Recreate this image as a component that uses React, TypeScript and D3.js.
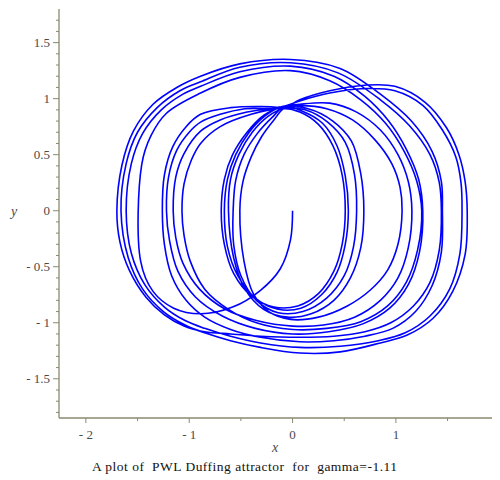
import React from "react";
import * as d3 from "d3";

// ---- axis data ----
const X_MAJOR = [-2, -1, 0, 1];
const X_LABELS = ["- 2", "- 1", "0", "1"];
const X_MINOR = [-1.5, -0.5, 0.5, 1.5];
const Y_MAJOR = [-1.5, -1, -0.5, 0, 0.5, 1, 1.5];
const Y_LABELS = ["- 1.5", "- 1", "- 0.5", "0", "0.5", "1", "1.5"];
const Y_MINOR = [-1.8, -1.7, -1.6, -1.4, -1.3, -1.2, -1.1, -0.9, -0.8, -0.7, -0.6, -0.4, -0.3, -0.2, -0.1,
  0.1, 0.2, 0.3, 0.4, 0.6, 0.7, 0.8, 0.9, 1.1, 1.2, 1.3, 1.4, 1.6, 1.7];
const TITLE = "A plot of  PWL Duffing attractor  for  gamma=-1.11";

// ---- trajectory pieces (x, y) ----
const transient = [[0, 0], [-0.02, -0.26], [-0.12, -0.52], [-0.31, -0.71], [-0.58, -0.86], [-0.89, -0.92], [-1.15, -0.87], [-1.35, -0.72], [-1.47, -0.45]];
const tA137 = [[-1.5, 0], [-1.46, 0.41], [-1.37, 0.67], [-1.22, 0.87], [-0.89, 1.05], [-0.51, 1.19], [-0.02, 1.25], [0.36, 1.16], [0.66, 0.99], [0.9, 0.78], [1.08, 0.53], [1.2, 0.27], [1.25, 0]];
const b422 = [[1.25, 0], [1.21, -0.35], [1.1, -0.64], [0.92, -0.85], [0.66, -0.99], [0.33, -1.05], [0.0, -1.06], [-0.35, -1.0], [-0.62, -0.88], [-0.85, -0.7], [-0.99, -0.45], [-1.05, -0.22], [-1.07, 0]];
const tB182 = [[-1.07, 0], [-1.05, 0.24], [-0.98, 0.45], [-0.89, 0.6], [-0.7, 0.75], [-0.4, 0.86], [-0.1, 0.915], [0.12, 0.9], [0.34, 0.79], [0.51, 0.61], [0.6, 0.32], [0.62, 0]];
const b357 = [[0.62, 0], [0.59, -0.32], [0.5, -0.58], [0.33, -0.78], [0.1, -0.9], [-0.14, -0.91], [-0.35, -0.8], [-0.5, -0.58], [-0.57, -0.3], [-0.575, 0]];
const tC233 = [[-0.575, 0], [-0.55, 0.27], [-0.47, 0.5], [-0.34, 0.69], [-0.2, 0.83], [-0.08, 0.925], [0.09, 0.89], [0.29, 0.78], [0.43, 0.58], [0.51, 0.31], [0.54, 0]];
const b348 = [[0.54, 0], [0.51, -0.3], [0.43, -0.55], [0.28, -0.75], [0.08, -0.87], [-0.14, -0.88], [-0.36, -0.78], [-0.53, -0.58], [-0.63, -0.32], [-0.66, 0]];
const tC224 = [[-0.66, 0], [-0.63, 0.28], [-0.55, 0.5], [-0.42, 0.7], [-0.26, 0.85], [-0.1, 0.93], [0.07, 0.94], [0.33, 0.91], [0.58, 0.81], [0.8, 0.63], [0.96, 0.42], [1.04, 0.21], [1.06, 0]];
const b402 = [[1.06, 0], [1.02, -0.3], [0.92, -0.53], [0.75, -0.71], [0.53, -0.85], [0.25, -0.95], [-0.02, -0.97], [-0.23, -0.9], [-0.38, -0.74], [-0.47, -0.45], [-0.51, 0]];
const tC240 = [[-0.51, 0], [-0.48, 0.26], [-0.4, 0.48], [-0.3, 0.66], [-0.18, 0.81], [-0.07, 0.92], [0.15, 0.91], [0.39, 0.8], [0.57, 0.62], [0.66, 0.33], [0.69, 0]];
const b364 = [[0.69, 0], [0.66, -0.33], [0.56, -0.6], [0.4, -0.8], [0.18, -0.92], [-0.05, -0.95], [-0.28, -0.88], [-0.46, -0.7], [-0.57, -0.42], [-0.62, 0]];
const tC228 = [[-0.62, 0], [-0.6, 0.28], [-0.52, 0.5], [-0.39, 0.7], [-0.24, 0.84], [-0.09, 0.91], [0.07, 0.88], [0.25, 0.77], [0.39, 0.58], [0.48, 0.32], [0.51, 0]];
const b345 = [[0.51, 0], [0.48, -0.3], [0.4, -0.54], [0.25, -0.74], [0.05, -0.85], [-0.18, -0.86], [-0.4, -0.76], [-0.57, -0.56], [-0.66, -0.3], [-0.69, 0]];
const tC221 = [[-0.69, 0], [-0.66, 0.28], [-0.58, 0.5], [-0.44, 0.7], [-0.28, 0.85], [-0.11, 0.925], [0.07, 0.95], [0.36, 0.96], [0.62, 0.88], [0.85, 0.72], [1.02, 0.5], [1.12, 0.26], [1.155, 0]];
const b412 = [[1.155, 0], [1.12, -0.33], [1.02, -0.6], [0.85, -0.8], [0.6, -0.95], [0.3, -1.02], [0.0, -1.03], [-0.35, -0.98], [-0.65, -0.88], [-0.9, -0.7], [-1.06, -0.47], [-1.13, -0.24], [-1.155, 0]];
const tB173 = [[-1.155, 0], [-1.13, 0.3], [-1.05, 0.51], [-0.89, 0.71], [-0.7, 0.81], [-0.44, 0.88], [-0.09, 0.93], [0.07, 0.98], [0.36, 1.05], [0.7, 1.09], [0.99, 1.07], [1.26, 0.94], [1.45, 0.72], [1.58, 0.48], [1.63, 0.25], [1.64, 0]];
const b462 = [[1.64, 0], [1.62, -0.38], [1.52, -0.7], [1.33, -0.94], [1.09, -1.09], [0.83, -1.16], [0.46, -1.21], [0.07, -1.22], [-0.31, -1.18], [-0.6, -1.12], [-0.85, -1.05], [-1.04, -0.98], [-1.24, -0.86], [-1.43, -0.66], [-1.56, -0.38], [-1.61, 0]];
const tA126 = [[-1.61, 0], [-1.56, 0.42], [-1.45, 0.69], [-1.27, 0.9], [-1.06, 1.04], [-0.89, 1.11], [-0.51, 1.24], [-0.02, 1.29], [0.4, 1.2], [0.7, 1.02], [0.93, 0.8], [1.1, 0.55], [1.22, 0.28], [1.26, 0]];
const b423 = [[1.26, 0], [1.23, -0.36], [1.12, -0.66], [0.94, -0.87], [0.68, -1.01], [0.35, -1.08], [0.0, -1.1], [-0.36, -1.05], [-0.68, -0.94], [-0.94, -0.77], [-1.11, -0.54], [-1.19, -0.27], [-1.22, 0]];
const tB166 = [[-1.22, 0], [-1.2, 0.3], [-1.12, 0.54], [-1.0, 0.7], [-0.89, 0.79], [-0.7, 0.86], [-0.46, 0.91], [-0.08, 0.92], [0.07, 0.99], [0.36, 1.07], [0.7, 1.12], [0.99, 1.11], [1.28, 0.97], [1.49, 0.74], [1.61, 0.5], [1.67, 0.26], [1.69, 0]];
const b467 = [[1.69, 0], [1.67, -0.39], [1.55, -0.72], [1.36, -0.96], [1.11, -1.11], [0.85, -1.18], [0.46, -1.26], [0.07, -1.27], [-0.31, -1.22], [-0.6, -1.16], [-0.85, -1.09], [-1.04, -1.02], [-1.25, -0.9], [-1.45, -0.7], [-1.59, -0.42], [-1.66, 0]];
const tA121 = [[-1.66, 0], [-1.61, 0.42], [-1.5, 0.7], [-1.31, 0.92], [-1.09, 1.07], [-0.89, 1.15], [-0.51, 1.28], [-0.02, 1.32], [0.44, 1.23], [0.85, 0.99], [1.13, 0.76], [1.33, 0.5], [1.42, 0.25], [1.44, 0]];
const b442 = [[1.44, 0], [1.42, -0.35], [1.33, -0.64], [1.17, -0.85], [0.95, -1.0], [0.7, -1.08], [0.4, -1.12], [0.07, -1.13], [-0.31, -1.12], [-0.6, -1.1], [-0.85, -1.08], [-1.05, -1.03], [-1.24, -0.93], [-1.42, -0.77], [-1.58, -0.53], [-1.67, -0.28], [-1.7, 0]];
const tA117 = [[-1.7, 0], [-1.65, 0.41], [-1.54, 0.71], [-1.35, 0.95], [-1.12, 1.1], [-0.89, 1.2], [-0.51, 1.31], [-0.02, 1.35], [0.46, 1.27], [0.85, 1.04], [1.15, 0.8], [1.35, 0.53], [1.44, 0.26], [1.45, 0]];
const b443 = [[1.45, 0], [1.44, -0.37], [1.35, -0.67], [1.19, -0.9], [0.97, -1.05], [0.7, -1.12], [0.4, -1.16], [0.07, -1.17], [-0.31, -1.13], [-0.6, -1.06], [-0.85, -0.95], [-1.03, -0.8], [-1.17, -0.58], [-1.24, -0.3], [-1.26, 0]];
const tB162 = [[-1.26, 0], [-1.24, 0.32], [-1.16, 0.57], [-1.03, 0.75], [-0.89, 0.86], [-0.6, 0.92], [-0.3, 0.93], [-0.09, 0.92]];

const PIECES = [transient, tA137, b422, tB182, b357, tC233, b348, tC224, b402, tC240, b364, tC228, b345,
  tC221, b412, tB173, b462, tA126, b423, tB166, b467, tA121, b442, tA117, b443, tB162];

const W = 500, H = 480;

export default function App() {
  const x = d3.scaleLinear().domain([-2.26, 1.93]).range([59, 492]);
  const y = d3.scaleLinear().domain([-1.85, 1.8]).range([418, 9]);

  const pts: number[][] = [];
  PIECES.forEach((p, i) => {
    p.forEach((q, j) => {
      if (i > 0 && j === 0) return;
      pts.push(q);
    });
  });
  const line = d3.line<number[]>()
    .x(d => x(d[0]))
    .y(d => y(d[1]))
    .curve(d3.curveCatmullRom.alpha(0.5));

  const axisColor = "#8a8a70";
  const textColor = "#4a4a4a";
  const font = "'Liberation Serif', 'Times New Roman', serif";
  const y0 = y(-1.85);
  const x0 = x(-2.26);

  return (
    <svg width={W} height={H} style={{ position: "absolute", left: 0, top: 0, background: "#fff" }}>
      <path d={line(pts) || ""} fill="none" stroke="#0000ff" strokeWidth={1.6} strokeLinejoin="round" />
      {/* axes */}
      <line x1={x0} y1={y(1.8)} x2={x0} y2={y0} stroke={axisColor} strokeWidth={1.3} />
      <line x1={x0} y1={y0} x2={x(1.93)} y2={y0} stroke={axisColor} strokeWidth={1.3} />
      {Y_MINOR.map(v => (
        <line key={"ym" + v} x1={x0 - 3} x2={x0} y1={y(v)} y2={y(v)} stroke={axisColor} strokeWidth={1} />
      ))}
      {Y_MAJOR.map((v, i) => (
        <g key={"yM" + v}>
          <line x1={x0 - 6} x2={x0} y1={y(v)} y2={y(v)} stroke={axisColor} strokeWidth={1} />
          <text x={x0 - 9} y={y(v) + 4.5} textAnchor="end" fontFamily={font} fontSize={13} fill={textColor} xmlSpace="preserve">{Y_LABELS[i]}</text>
        </g>
      ))}
      {X_MINOR.map(v => (
        <line key={"xm" + v} x1={x(v)} x2={x(v)} y1={y0} y2={y0 + 3} stroke={axisColor} strokeWidth={1} />
      ))}
      {X_MAJOR.map((v, i) => (
        <g key={"xM" + v}>
          <line x1={x(v)} x2={x(v)} y1={y0} y2={y0 + 5} stroke={axisColor} strokeWidth={1} />
          <text x={x(v)} y={439} textAnchor="middle" fontFamily={font} fontSize={13} fill={textColor} xmlSpace="preserve">{X_LABELS[i]}</text>
        </g>
      ))}
      <text x={14} y={216} textAnchor="middle" fontFamily={font} fontStyle="italic" fontSize={14} fill={textColor}>y</text>
      <text x={275} y={452} textAnchor="middle" fontFamily={font} fontStyle="italic" fontSize={14} fill={textColor}>x</text>
      <text x={244.5} y={471} textAnchor="middle" fontFamily={font} fontSize={13.5} fill="#111" xmlSpace="preserve"
        textLength={305} lengthAdjust="spacing">{TITLE}</text>
    </svg>
  );
}
